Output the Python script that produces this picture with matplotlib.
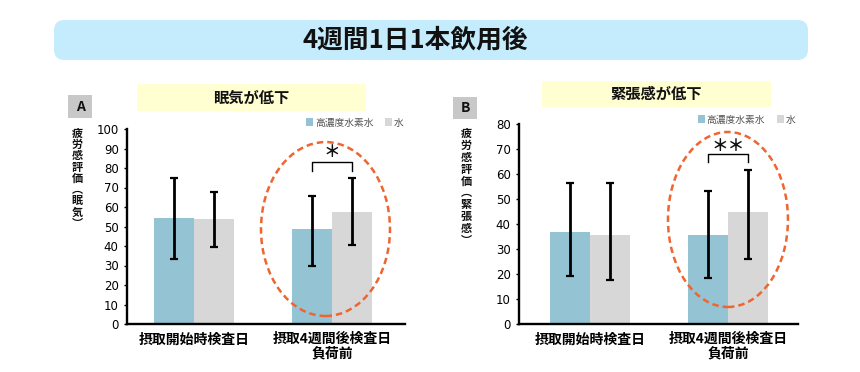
import matplotlib
matplotlib.use("Agg")
import matplotlib.pyplot as plt
from matplotlib.patches import Ellipse, FancyBboxPatch, Rectangle
import numpy as np

plt.rcParams['font.family'] = ['Noto Sans CJK JP', 'DejaVu Sans']

# ---- data ----
title = "4週間1日1本飲用後"
categories = ["摂取開始時検査日", "摂取4週間後検査日\n負荷前"]
series_names = ["高濃度水素水", "水"]

a_title = "眠気が低下"
a_ylabel = "疲労感評価︵眠気︶"
a_h2 = [54.3, 48.8]
a_h2_err_hi = [75.0, 65.8]
a_h2_err_lo = [33.2, 30.0]
a_w = [53.8, 57.4]
a_w_err_hi = [67.9, 75.0]
a_w_err_lo = [39.3, 40.3]
a_yticks = [0, 10, 20, 30, 40, 50, 60, 70, 80, 90, 100]
a_sig = "＊"

b_title = "緊張感が低下"
b_ylabel = "疲労感評価︵緊張感︶"
b_h2 = [36.8, 35.7]
b_h2_err_hi = [56.3, 53.3]
b_h2_err_lo = [19.1, 18.4]
b_w = [35.7, 44.9]
b_w_err_hi = [56.3, 61.7]
b_w_err_lo = [17.6, 26.0]
b_yticks = [0, 10, 20, 30, 40, 50, 60, 70, 80]
b_sig = "＊＊"

BLUE = "#94C4D3"
GRAY = "#D7D7D8"
ORANGE = "#EF6530"

W, H = 860, 372
fig = plt.figure(figsize=(W / 100, H / 100), dpi=100)


def fx(px):
    return px / W


def fy(py):
    return 1 - py / H


# title box
fig.patches.append(FancyBboxPatch((fx(54), fy(60)), fx(808) - fx(54), fy(20) - fy(60),
                                  boxstyle="round,pad=0,rounding_size=0.012",
                                  transform=fig.transFigure, facecolor="#C5ECFC",
                                  edgecolor="none", mutation_aspect=W / H))
fig.text(fx(415.5), fy(40), title, ha="center", va="center", fontsize=18.5,
         fontweight="bold", color="#111111")


def panel(rect, letter, lbox, sbox, stitle, ylabel_txt, ylab_x, ylab_y0, ylab_ls,
          h2, h2hi, h2lo, w, whi, wlo, yticks, xlim, sig, bracket, ell, leg_anchor):
    ax = fig.add_axes(rect)
    x = np.arange(len(categories))
    bw = 0.29
    e_h2 = [np.array(h2) - np.array(h2lo), np.array(h2hi) - np.array(h2)]
    e_w = [np.array(w) - np.array(wlo), np.array(whi) - np.array(w)]
    ekw = dict(elinewidth=2.0, capthick=1.6, ecolor="black", capsize=3.0)
    b1 = ax.bar(x - bw / 2, h2, bw, color=BLUE, yerr=e_h2, error_kw=ekw, label=series_names[0], zorder=2)
    b2 = ax.bar(x + bw / 2, w, bw, color=GRAY, yerr=e_w, error_kw=ekw, label=series_names[1], zorder=2)
    ax.set_ylim(yticks[0], yticks[-1])
    ax.set_xlim(*xlim)
    ax.set_yticks(yticks)
    ax.set_xticks(x)
    ax.set_xticklabels(categories, fontsize=10, fontweight="bold", linespacing=1.05)
    for s in ["top", "right"]:
        ax.spines[s].set_visible(False)
    for s in ["left", "bottom"]:
        ax.spines[s].set_linewidth(1.7)
    ax.tick_params(axis="y", direction="out", length=2.5, width=1, labelsize=9, pad=3.5)
    ax.tick_params(axis="x", length=0, pad=6)
    for t in ax.get_yticklabels():
        t.set_fontfamily(["DejaVu Sans"])
        t.set_fontsize(8.5)
    ax.patch.set_visible(False)

    leg = ax.legend(handles=[b1, b2], labels=series_names, loc="upper right",
                    bbox_to_anchor=leg_anchor, ncol=2, frameon=False, fontsize=7,
                    handlelength=0.7, handleheight=0.7, handletextpad=0.2,
                    columnspacing=1.2, borderaxespad=0, borderpad=0)
    for t in leg.get_texts():
        t.set_color("#555555")
    for hnd in leg.legend_handles:
        hnd.set_height(6)

    # significance bracket
    xl, xr = 1 - bw / 2, 1 + bw / 2
    ytop, yleg, ysig = bracket
    ax.plot([xl, xl, xr, xr], [yleg, ytop, ytop, yleg], color="black", lw=1.0, clip_on=False, zorder=3)
    ax.text(1, ysig, sig, ha="center", va="center", fontsize=12, fontweight="bold", color="#111111")

    # dashed ellipse
    cx, cy, ew, eh = ell
    ax.add_patch(Ellipse((cx, cy), ew, eh, transform=ax.transAxes, fill=False,
                         edgecolor=ORANGE, lw=1.8, linestyle=(0, (2.6, 1.6)), clip_on=False, zorder=4))

    # letter box
    lx0, ly0, lx1, ly1 = lbox
    fig.patches.append(Rectangle((fx(lx0), fy(ly1)), fx(lx1) - fx(lx0), fy(ly0) - fy(ly1),
                                 transform=fig.transFigure, facecolor="#C8C8C8", edgecolor="none"))
    fig.text(fx((lx0 + lx1) / 2), fy((ly0 + ly1) / 2), letter, ha="center", va="center",
             fontsize=10, fontweight="bold", color="#111111")
    # subtitle box
    sx0, sy0, sx1, sy1 = sbox
    fig.patches.append(Rectangle((fx(sx0), fy(sy1)), fx(sx1) - fx(sx0), fy(sy0) - fy(sy1),
                                 transform=fig.transFigure, facecolor="#FFFFD2", edgecolor="none"))
    fig.text(fx((sx0 + sx1) / 2), fy((sy0 + sy1) / 2), stitle, ha="center", va="center",
             fontsize=11, fontweight="bold", color="#111111")
    # vertical y label (stacked upright characters)
    fig.text(fx(ylab_x), fy(ylab_y0), "\n".join(ylabel_txt), ha="center", va="top",
             multialignment="center", fontsize=8.0, fontweight="bold", color="#111111",
             linespacing=ylab_ls)
    return ax


panel([fx(127), fy(324), fx(405) - fx(127), fy(129) - fy(324)], "A",
      (68, 95, 92, 118), (137, 84, 366, 111), a_title, a_ylabel, 77, 127, 0.82,
      a_h2, a_h2_err_hi, a_h2_err_lo, a_w, a_w_err_hi, a_w_err_lo, a_yticks,
      (-0.486, 1.529), a_sig, (83.0, 78.6, 88.0), (0.714, 0.487, 0.464, 0.892),
      (0.995, 1.055))

panel([fx(519), fy(324), fx(798) - fx(519), fy(124) - fy(324)], "B",
      (453, 97, 477, 119), (542, 81, 771, 107), b_title, b_ylabel, 466, 127, 0.89,
      b_h2, b_h2_err_hi, b_h2_err_lo, b_w, b_w_err_hi, b_w_err_lo, b_yticks,
      (-0.514, 1.507), b_sig, (68.0, 64.8, 71.0), (0.749, 0.5225, 0.430, 0.875),
      (0.99, 1.045))

fig.savefig("out.png", dpi=100)
